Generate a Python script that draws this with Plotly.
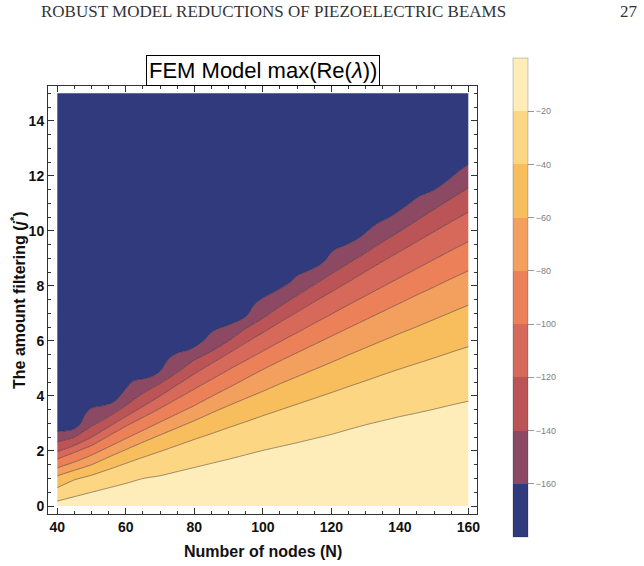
import plotly.graph_objects as go

# ---------------- data ----------------
N_GRID = [40, 45, 50, 55, 60, 65, 70, 75, 80, 85, 90, 95, 100, 105, 110, 115, 120,
          125, 130, 135, 140, 145, 150, 155, 160]
J_MIN, J_MAX = 0, 15
N_MIN, N_MAX = 40, 160

# contour line positions (j value of each level at each N)
L_20 = [0.18, 0.34, 0.50, 0.66, 0.82, 1.00, 1.10, 1.25, 1.40, 1.55, 1.70, 1.86, 2.02,
        2.16, 2.30, 2.45, 2.60, 2.78, 2.95, 3.10, 3.25, 3.38, 3.52, 3.67, 3.81]
L_40 = [0.67, 0.95, 1.12, 1.33, 1.55, 1.77, 1.98, 2.20, 2.42, 2.63, 2.85, 3.06, 3.28,
        3.49, 3.70, 3.91, 4.12, 4.34, 4.55, 4.77, 4.98, 5.18, 5.38, 5.59, 5.79]
L_60 = [1.10, 1.30, 1.50, 1.78, 2.05, 2.32, 2.58, 2.84, 3.10, 3.38, 3.65, 3.91, 4.17,
        4.44, 4.70, 4.96, 5.22, 5.49, 5.75, 6.01, 6.27, 6.52, 6.78, 7.04, 7.30]
L_80 = [1.39, 1.60, 1.85, 2.15, 2.45, 2.75, 3.05, 3.35, 3.65, 3.98, 4.30, 4.63, 4.96,
        5.27, 5.57, 5.87, 6.17, 6.47, 6.77, 7.07, 7.37, 7.67, 7.96, 8.26, 8.55]
L_100 = [1.71, 1.95, 2.20, 2.55, 2.90, 3.22, 3.55, 3.90, 4.25, 4.60, 4.95, 5.29, 5.63,
         5.97, 6.30, 6.64, 6.97, 7.31, 7.64, 7.97, 8.30, 8.63, 8.96, 9.29, 9.61]
L_120 = [1.98, 2.20, 2.50, 2.88, 3.25, 3.62, 4.00, 4.40, 4.80, 5.18, 5.55, 5.93, 6.30,
         6.68, 7.05, 7.42, 7.78, 8.15, 8.52, 8.89, 9.25, 9.61, 9.97, 10.33, 10.68]
L_140 = [2.33, 2.50, 2.90, 3.25, 3.65, 4.10, 4.45, 4.85, 5.30, 5.62, 6.00, 6.45, 6.82,
         7.25, 7.65, 8.04, 8.43, 8.82, 9.20, 9.60, 9.98, 10.38, 10.78, 11.17, 11.56]
# -160 level (edge of the blue region), wavy
N_160 = [40, 44.2, 46.6, 48.1, 50, 53.4, 56.8, 59.8, 62.2, 67, 70, 72.4, 74.9, 78.7,
         82.6, 85.5, 90.4, 95.3, 97.2, 99.2, 103, 108, 110, 113.8, 117.7, 120.6, 125,
         128.4, 133.3, 137.1, 142, 145.9, 149.8, 154.7, 157.6, 160]
L_160 = [2.71, 2.77, 2.96, 3.32, 3.56, 3.65, 3.81, 4.23, 4.54, 4.68, 4.90, 5.33, 5.55,
         5.69, 6.00, 6.36, 6.60, 6.91, 7.27, 7.50, 7.76, 8.13, 8.37, 8.58, 8.86, 9.28,
         9.53, 9.77, 10.26, 10.50, 10.92, 11.27, 11.47, 11.90, 12.20, 12.41]

LEVELS = [-20, -40, -60, -80, -100, -120, -140, -160]
CB_MIN, CB_MAX = -180, 0
BAND_COLORS = ["#FEEDB9", "#FDD684", "#F8BD5D", "#F3A05E", "#EC8059",
               "#D6695A", "#BB5456", "#8B4964", "#323A7E"]   # 0..-20 ... -160..-180
X_TICKS = [40, 60, 80, 100, 120, 140, 160]
Y_TICKS = [0, 2, 4, 6, 8, 10, 12, 14]

# ---------------- figure ----------------
W, H = 644, 566
ML, MR, MT, MB = 48, 167, 86, 52
PW, PH = W - ML - MR, H - MT - MB

fig = go.Figure()
line_style = dict(color="rgba(30,20,20,0.55)", width=0.8)

fig.add_trace(go.Scatter(x=[N_MIN, N_MAX], y=[J_MIN, J_MIN], mode="lines",
                         line=dict(width=0), hoverinfo="skip"))
bounds = [(N_GRID, L_20), (N_GRID, L_40), (N_GRID, L_60), (N_GRID, L_80),
          (N_GRID, L_100), (N_GRID, L_120), (N_GRID, L_140), (N_160, L_160)]
for i, (xs, ys) in enumerate(bounds):
    fig.add_trace(go.Scatter(
        x=xs, y=ys, mode="lines", fill="tonexty", fillcolor=BAND_COLORS[i],
        line=dict(shape="spline", smoothing=1.0 if i == 7 else 0.5, **line_style),
        hoverinfo="skip"))
fig.add_trace(go.Scatter(x=[N_MIN, N_MAX], y=[J_MAX, J_MAX], mode="lines",
                         fill="tonexty", fillcolor=BAND_COLORS[8],
                         line=dict(width=0), hoverinfo="skip"))

# colorbar
nb = len(BAND_COLORS)
cscale = []
for k, c in enumerate(reversed(BAND_COLORS)):
    cscale.append([k / nb, c])
    cscale.append([(k + 1) / nb, c])
cb_top_px, cb_len_px, cb_left_px, cb_th = 58, 479, 513, 15
fig.add_trace(go.Scatter(
    x=[None], y=[None], mode="markers", hoverinfo="skip",
    marker=dict(color=[CB_MIN], cmin=CB_MIN, cmax=CB_MAX, colorscale=cscale,
                showscale=True,
                colorbar=dict(
                    x=(cb_left_px - ML) / PW, xanchor="left", xpad=0,
                    y=(H - MB - cb_top_px) / PH, yanchor="top", ypad=0,
                    len=cb_len_px, lenmode="pixels", thickness=cb_th,
                    outlinewidth=0.8, outlinecolor="rgba(0,0,0,0.25)",
                    tickvals=LEVELS, ticktext=["\u2212" + str(-v) for v in LEVELS],
                    ticks="outside", ticklen=6, tickwidth=1, tickcolor="#999999",
                    tickfont=dict(family="Liberation Sans", size=9, color="#808080"),
                ))))

shapes = []
for v in LEVELS:
    ypx = cb_top_px + (CB_MAX - v) / (CB_MAX - CB_MIN) * cb_len_px
    yp = (H - MB - ypx) / PH
    shapes.append(dict(type="line", xref="paper", yref="paper",
                       x0=(cb_left_px - ML) / PW, x1=(cb_left_px + cb_th - ML) / PW,
                       y0=yp, y1=yp, line=dict(color="rgba(0,0,0,0.3)", width=1.2)))

axis_common = dict(showline=True, linecolor="#333333", linewidth=1, mirror="allticks",
                   ticks="inside", ticklen=6, tickwidth=1, tickcolor="#333333",
                   showgrid=False, zeroline=False,
                   tickfont=dict(family="Liberation Sans", size=14, color="#111111"))

fig.update_layout(
    width=W, height=H, margin=dict(l=ML, r=MR, t=MT, b=MB),
    paper_bgcolor="white", plot_bgcolor="white", showlegend=False,
    xaxis=dict(range=[37.28, 162.54], tickvals=X_TICKS,
               ticktext=["<b>%d</b>" % v for v in X_TICKS],
               minor=dict(dtick=5, tick0=40, ticks="inside", ticklen=3,
                          tickcolor="#333333"),
               **axis_common),
    yaxis=dict(range=[-0.29, 15.265], tickvals=Y_TICKS,
               ticktext=["<b>%d</b>" % v for v in Y_TICKS],
               minor=dict(dtick=0.5, tick0=0, ticks="inside", ticklen=3,
                          tickcolor="#333333"),
               **axis_common),
    shapes=shapes,
    annotations=[
        dict(text="FEM Model max(Re(<i>\u03bb</i>))", xref="paper", yref="paper",
             x=0.5, y=1, xanchor="center", yanchor="bottom", showarrow=False,
             font=dict(family="Liberation Sans", size=22, color="black"),
             bordercolor="black", borderwidth=1, borderpad=2, bgcolor="white"),
        dict(text="<b>Number of nodes (N)</b>", xref="paper", yref="paper",
             x=(263 - ML) / PW, y=(H - MB - 551) / PH, xanchor="center",
             yanchor="middle", showarrow=False,
             font=dict(family="Liberation Sans", size=16, color="#111111")),
        dict(text="<b>The amount filtering (<i>j</i><sup>*</sup>)</b>", xref="paper",
             yref="paper", x=(18 - ML) / PW, y=0.5, xanchor="center", yanchor="middle",
             textangle=-90, showarrow=False,
             font=dict(family="Liberation Sans", size=16, color="#111111")),
        dict(text="ROBUST MODEL REDUCTIONS OF PIEZOELECTRIC BEAMS", xref="paper",
             yref="paper", x=(39 - ML) / PW, y=(H - MB - 11) / PH, xanchor="left",
             yanchor="middle", showarrow=False,
             font=dict(family="Liberation Serif", size=17, color="#333333")),
        dict(text="27", xref="paper", yref="paper", x=(640 - ML) / PW,
             y=(H - MB - 11) / PH, xanchor="right", yanchor="middle", showarrow=False,
             font=dict(family="Liberation Serif", size=17, color="#333333")),
    ],
)

fig.write_html("out.html")
